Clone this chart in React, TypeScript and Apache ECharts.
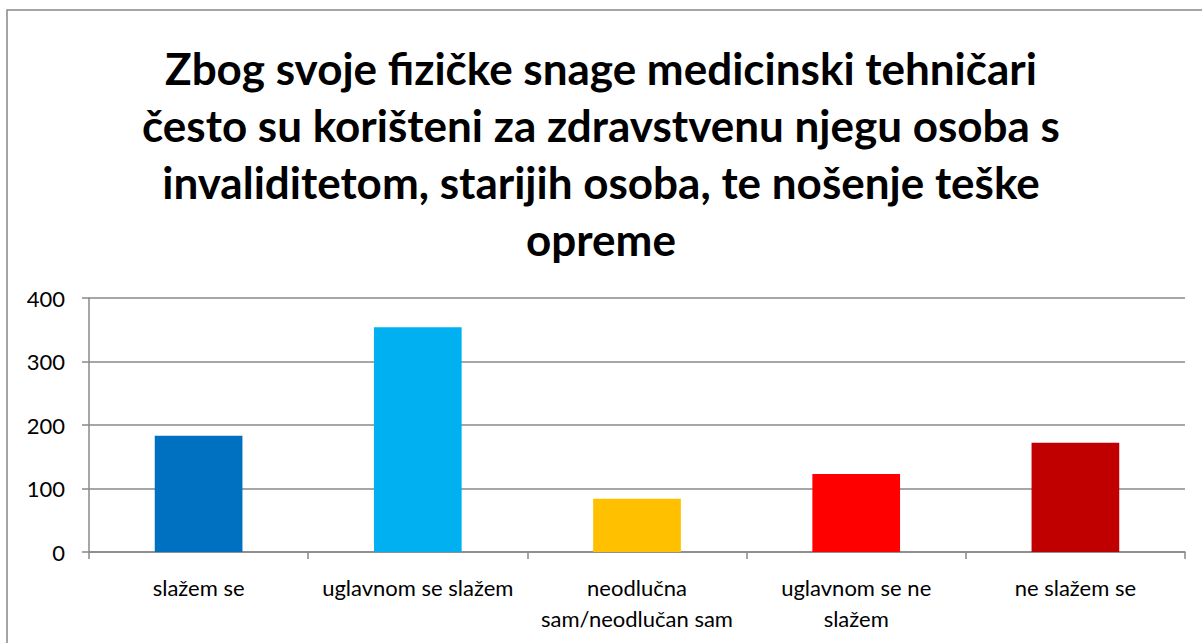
import React, { useEffect, useRef } from "react";
import * as echarts from "echarts";

const categories = [
  "slažem se",
  "uglavnom se slažem",
  "neodlučna\nsam/neodlučan sam",
  "uglavnom se ne\nslažem",
  "ne slažem se",
];
const values = [183, 354, 84, 123, 172];
const barColors = ["#0070C0", "#00B0F0", "#FFC000", "#FF0000", "#C00000"];
const titleText =
  "Zbog svoje fizičke snage medicinski tehničari\nčesto su korišteni za zdravstvenu njegu osoba s\ninvaliditetom, starijih osoba, te nošenje teške\nopreme";

export default function App() {
  const ref = useRef<HTMLDivElement>(null);
  useEffect(() => {
    if (!ref.current) return;
    const chart = echarts.init(ref.current, undefined, { renderer: "svg" });
    const font = "Lato, 'Liberation Sans', sans-serif";
    chart.setOption({
      animation: false,
      backgroundColor: "#ffffff",
      title: {
        text: titleText,
        left: "center",
        top: 34,
        textStyle: {
          fontFamily: font,
          fontWeight: "bold",
          fontSize: 44,
          lineHeight: 57,
          color: "#000000",
        },
      },
      graphic: [
        {
          type: "rect",
          shape: { x: 7, y: 10, width: 1220, height: 660 },
          style: { fill: "none", stroke: "#888888", lineWidth: 1.5 },
          silent: true,
        },
      ],
      grid: { left: 89, right: 17, top: 298, bottom: 91 },
      xAxis: {
        type: "category",
        data: categories,
        axisLine: { lineStyle: { color: "#888888", width: 1.5 } },
        axisTick: { show: true, length: 7, lineStyle: { color: "#888888", width: 1.5 } },
        axisLabel: {
          fontFamily: font,
          fontSize: 22,
          lineHeight: 31,
          color: "#000000",
          margin: 20,
          interval: 0,
        },
      },
      yAxis: {
        type: "value",
        min: 0,
        max: 400,
        interval: 100,
        axisLine: { show: true, lineStyle: { color: "#888888", width: 1.5 } },
        axisTick: { show: true, length: 7, lineStyle: { color: "#888888", width: 1.5 } },
        splitLine: { lineStyle: { color: "#888888", width: 1.5 } },
        axisLabel: {
          fontFamily: font,
          fontSize: 22,
          color: "#000000",
          margin: 24,
        },
      },
      series: [
        {
          type: "bar",
          data: values.map((v, i) => ({ value: v, itemStyle: { color: barColors[i] } })),
          barWidth: "40%",
        },
      ],
    });
    return () => chart.dispose();
  }, []);
  return (
    <div
      ref={ref}
      style={{ position: "fixed", left: 0, top: 0, width: 1202, height: 643 }}
    />
  );
}
